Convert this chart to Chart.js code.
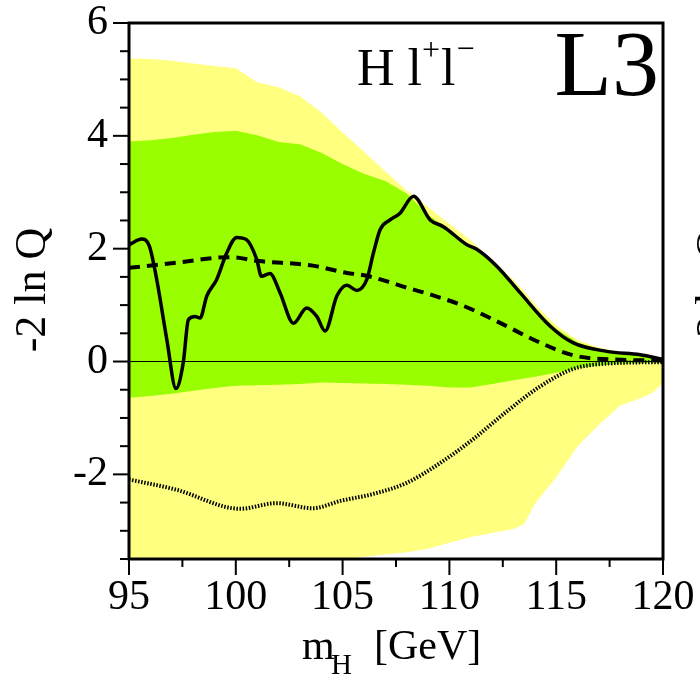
<!DOCTYPE html>
<html>
<head>
<meta charset="utf-8">
<script src="https://cdn.jsdelivr.net/npm/chart.js@4.4.1/dist/chart.umd.min.js"></script>
<style>
  html, body { margin: 0; padding: 0; background: #fff; }
  #wrap { width: 700px; height: 674px; position: relative; }
</style>
</head>
<body>
<div id="wrap"><canvas id="chart"></canvas></div>
<script>
// x grid shared by the 1 and 2 sigma bands
var bandMass = [95, 96, 97, 98, 99, 100, 101, 102, 103, 104, 105, 106, 107, 108, 109, 110, 111, 112, 113, 113.5, 114, 115, 116, 117, 118, 119, 119.5, 120];
var yellowUp = [5.37, 5.36, 5.33, 5.28, 5.24, 5.2, 4.95, 4.86, 4.7, 4.42, 4.06, 3.72, 3.37, 3.03, 2.74, 2.44, 2.15, 1.8, 1.45, 1.25, 1.02, 0.64, 0.38, 0.25, 0.17, 0.12, 0.1, 0.07];
var greenUp = [3.9, 3.92, 3.96, 4.02, 4.07, 4.09, 4.01, 3.89, 3.85, 3.7, 3.5, 3.33, 3.2, 2.98, 2.6, 2.33, 2.05, 1.76, 1.38, 1.17, 0.94, 0.58, 0.34, 0.22, 0.15, 0.1, 0.08, 0.05];
var greenLo = [-0.64, -0.61, -0.57, -0.52, -0.47, -0.43, -0.42, -0.41, -0.4, -0.37, -0.38, -0.39, -0.4, -0.41, -0.43, -0.46, -0.46, -0.4, -0.33, -0.3, -0.27, -0.2, -0.12, -0.07, -0.04, -0.03, -0.02, -0.02];
var yellowLo = [-3.6, -3.6, -3.6, -3.6, -3.6, -3.6, -3.6, -3.6, -3.6, -3.6, -3.5, -3.46, -3.42, -3.38, -3.32, -3.21, -3.11, -3.04, -2.97, -2.88, -2.52, -2.05, -1.5, -1.12, -0.78, -0.64, -0.56, -0.38];

// observed -2lnQ
var obsMass = [95, 95.6, 95.95, 96.3, 96.77, 97.2, 97.54, 97.78, 98.09, 98.33, 98.64, 99.1, 99.57, 100.04, 100.5, 100.98, 101.2, 101.6, 102.07, 102.7, 103.32, 103.79, 104.18, 104.73, 105.2, 105.67, 106.13, 106.44, 106.76, 107.22, 107.69, 108.32, 109.1, 109.72, 110.82, 111.28, 112.22, 113.31, 114.72, 115.8, 117.37, 118.93, 120];
var obsLnQ = [2.07, 2.17, 2.05, 1.45, 0.39, -0.48, -0.02, 0.74, 0.8, 0.77, 1.16, 1.45, 1.92, 2.2, 2.16, 1.81, 1.51, 1.56, 1.22, 0.68, 0.95, 0.8, 0.54, 1.16, 1.35, 1.26, 1.45, 1.92, 2.34, 2.51, 2.63, 2.93, 2.51, 2.39, 2.07, 1.99, 1.69, 1.22, 0.625, 0.33, 0.18, 0.12, 0.04];

// expected, signal + background (dashed)
var sbMass = [95, 97.2, 99.7, 101.1, 103.6, 105.2, 106, 107, 108, 109, 110.7, 112.4, 114.1, 115.8, 117.7, 120];
var sbLnQ = [1.66, 1.75, 1.85, 1.78, 1.7, 1.57, 1.53, 1.43, 1.31, 1.2, 0.98, 0.68, 0.36, 0.11, 0.035, 0.02];

// expected, background only (dotted)
var bgMass = [95, 97.2, 100.2, 101.9, 103.6, 104.9, 106.4, 108, 109.6, 111.1, 112.7, 114.25, 115.8, 117.4, 120];
var bgLnQ = [-2.09, -2.27, -2.61, -2.51, -2.6, -2.47, -2.35, -2.15, -1.79, -1.38, -0.88, -0.44, -0.13, -0.035, -0.01];

var xTicks = { min: 95, max: 120, step: 2.5, labelEvery: 5 };
var yTicks = { min: -3.5, max: 6, step: 0.5, labelEvery: 2 };

function pts(xs, ys) {
  return xs.map(function (x, i) { return { x: x, y: ys[i] }; });
}

var serif = "'Liberation Serif', 'Times New Roman', serif";
Chart.defaults.font.family = serif;
Chart.defaults.color = '#000';

// frame, tick marks and the free text of the plot
var decor = {
  id: 'decor',
  afterDraw: function (chart) {
    var ctx = chart.ctx, a = chart.chartArea;
    var xs = chart.scales.x, ys = chart.scales.y;
    ctx.save();
    ctx.strokeStyle = '#000';
    ctx.lineWidth = 2;
    ys.ticks.forEach(function (t) {
      var py = ys.getPixelForValue(t.value);
      var len = (t.value % yTicks.labelEvery === 0) ? 16 : 9;
      ctx.beginPath(); ctx.moveTo(a.left - len, py); ctx.lineTo(a.left, py); ctx.stroke();
    });
    xs.ticks.forEach(function (t) {
      var px = xs.getPixelForValue(t.value);
      var len = (t.value % xTicks.labelEvery === 0) ? 16 : 8;
      ctx.beginPath(); ctx.moveTo(px, a.bottom); ctx.lineTo(px, a.bottom + len); ctx.stroke();
    });
    ctx.lineWidth = 3;
    ctx.strokeRect(a.left, a.top, a.right - a.left, a.bottom - a.top);

    ctx.fillStyle = '#000';
    ctx.textBaseline = 'alphabetic';
    ctx.textAlign = 'left';

    // process label
    var x = 357;
    ctx.font = '52px ' + serif;
    ctx.fillText('H l', x, 85);
    x += ctx.measureText('H l').width;
    ctx.font = '32px ' + serif;
    ctx.fillText('+', x, 60);
    x += ctx.measureText('+').width + 1;
    ctx.font = '52px ' + serif;
    ctx.fillText('l', x, 85);
    x += ctx.measureText('l').width + 1;
    ctx.font = '32px ' + serif;
    ctx.fillText('\u2212', x, 59);

    // experiment label
    ctx.textAlign = 'right';
    ctx.font = '94px ' + serif;
    ctx.fillText('L3', 659, 95);

    // x axis title
    ctx.textAlign = 'left';
    ctx.font = '42px ' + serif;
    ctx.fillText('m', 302, 659);
    ctx.font = '29px ' + serif;
    ctx.fillText('H', 331, 674);
    ctx.font = '42px ' + serif;
    ctx.fillText('[GeV]', 374, 659);

    // y axis title, plus the edge of the next panel's title
    ctx.textAlign = 'center';
    ctx.font = '44px ' + serif;
    [45, 726].forEach(function (bx) {
      ctx.save();
      ctx.translate(bx, 290);
      ctx.rotate(-Math.PI / 2);
      ctx.fillText('-2 ln Q', 0, 0);
      ctx.restore();
    });
    ctx.restore();
  }
};

new Chart(document.getElementById('chart'), {
  type: 'line',
  data: {
    datasets: [
      { data: pts(obsMass, obsLnQ), borderColor: '#000', borderWidth: 3.5, cubicInterpolationMode: 'monotone', fill: false },
      { data: pts(sbMass, sbLnQ), borderColor: '#000', borderWidth: 4, borderDash: [11, 7], cubicInterpolationMode: 'monotone', fill: false },
      { data: pts(bgMass, bgLnQ), borderColor: '#000', borderWidth: 4, borderDash: [1.5, 1.6], cubicInterpolationMode: 'monotone', fill: false },
      { data: pts([xTicks.min, xTicks.max], [0, 0]), borderColor: '#000', borderWidth: 1, fill: false },
      { data: pts(bandMass, greenUp), borderWidth: 0, backgroundColor: '#99ff00', fill: '+1' },
      { data: pts(bandMass, greenLo), borderWidth: 0, fill: false },
      { data: pts(bandMass, yellowUp), borderWidth: 0, backgroundColor: '#ffff80', fill: '+1' },
      { data: pts(bandMass, yellowLo), borderWidth: 0, fill: false }
    ]
  },
  options: {
    responsive: true,
    maintainAspectRatio: false,
    animation: false,
    layout: { padding: { left: 0, right: 37, top: 23, bottom: 0 } },
    elements: { point: { radius: 0 }, line: { tension: 0 } },
    plugins: { legend: { display: false }, tooltip: { enabled: false } },
    scales: {
      x: {
        type: 'linear',
        min: xTicks.min, max: xTicks.max,
        grid: { display: false, drawTicks: false },
        border: { display: false },
        ticks: {
          stepSize: xTicks.step, autoSkip: false, maxRotation: 0, padding: 14,
          font: { size: 42 },
          callback: function (v) { return v % xTicks.labelEvery === 0 ? v : ''; }
        },
        afterFit: function (s) { s.height = 115; s.paddingLeft = 0; s.paddingRight = 0; }
      },
      y: {
        min: yTicks.min, max: yTicks.max,
        grid: { display: false, drawTicks: false },
        border: { display: false },
        ticks: {
          stepSize: yTicks.step, autoSkip: false, padding: 21,
          font: { size: 42 },
          callback: function (v) { return v % yTicks.labelEvery === 0 ? v : ''; }
        },
        afterFit: function (s) { s.width = 129; s.paddingTop = 0; s.paddingBottom = 0; }
      }
    }
  },
  plugins: [decor]
});
</script>
</body>
</html>
